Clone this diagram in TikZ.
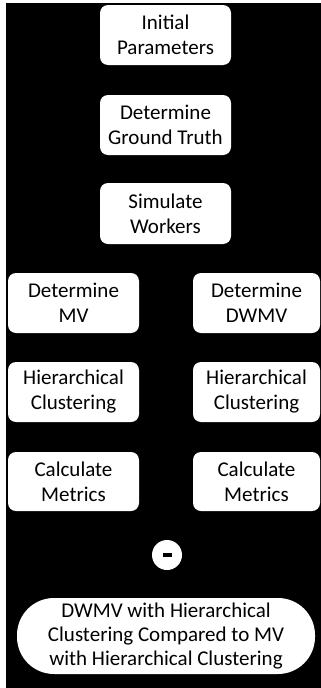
\documentclass[tikz,border=0pt]{standalone}
\usepackage{fontspec}
\setmainfont{Carlito}
\begin{document}
\begin{tikzpicture}[x=1pt,y=-1pt]
\tikzset{
  box/.style={fill=white, rounded corners=8pt, minimum width=131pt, minimum height=60pt,
    align=center, font=\fontsize{21}{25}\selectfont, text=black, inner sep=0pt},
  oval/.style={fill=white, rounded corners=37pt, minimum width=298pt, minimum height=76pt,
    align=center, font=\fontsize{21}{24}\selectfont, text=black, inner sep=0pt},
  minuscirc/.style={circle, fill=white, minimum size=30pt, inner sep=0pt}
}
\useasboundingbox (0,0) rectangle (321,688);
\fill[white] (0,0) rectangle (321,688);
\fill[black] (6,3) rectangle (321,688);
\node[box] (init) at (165.5,35) {Initial\\Parameters};
\node[box] (gt) at (165.5,125) {Determine\\Ground Truth};
\node[box, minimum height=61pt] (sim) at (165.5,213.5) {Simulate\\Workers};
\node[box] (mv) at (73.5,303) {Determine\\MV};
\node[box, minimum width=127pt] (dwmv) at (256.5,303) {Determine\\DWMV};
\node[box] (hc1) at (73.5,392) {Hierarchical\\Clustering};
\node[box, minimum width=127pt] (hc2) at (256.5,392) {Hierarchical\\Clustering};
\node[box, minimum height=59pt] (cm1) at (73.5,481.5) {Calculate\\Metrics};
\node[box, minimum width=127pt, minimum height=59pt] (cm2) at (256.5,481.5) {Calculate\\Metrics};
\node[minuscirc] (minus) at (167,555) {};
\fill[black] ([xshift=-4.5pt,yshift=-2pt]minus.center) rectangle ([xshift=4.5pt,yshift=2pt]minus.center);
\node[oval] (res) at (166,636) {DWMV with Hierarchical\\Clustering Compared to MV\\with Hierarchical Clustering};
\end{tikzpicture}
\end{document}
